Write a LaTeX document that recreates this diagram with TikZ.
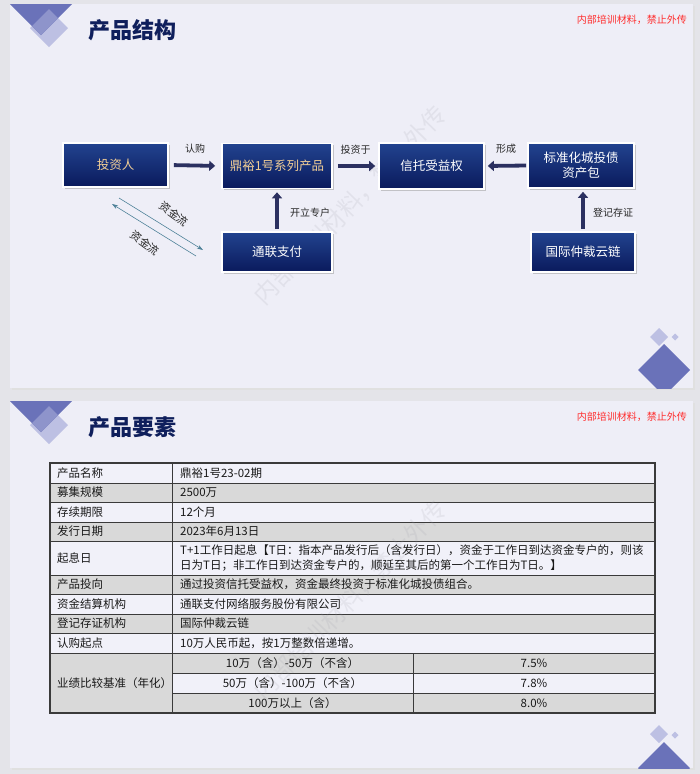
\documentclass[tikz,border=0pt]{standalone}
\usepackage{fontspec}
\setmainfont{Noto Sans CJK SC}
\usetikzlibrary{arrows.meta,shadows}
\definecolor{pagebg}{HTML}{E4E4E9}
\definecolor{slidebg}{HTML}{EEEEF7}
\definecolor{slideline}{HTML}{CFCFD8}
\definecolor{decodark}{HTML}{6A72B9}
\definecolor{decomid}{HTML}{8E94CB}
\definecolor{decolight}{HTML}{BDC0E3}
\definecolor{titlec}{HTML}{0F1F5C}
\definecolor{redc}{HTML}{FF2D2D}
\definecolor{boxtop}{HTML}{22438F}
\definecolor{boxbot}{HTML}{0A1A5C}
\definecolor{arrowc}{HTML}{2B3060}
\definecolor{goldc}{HTML}{F3CF96}
\definecolor{flowc}{HTML}{4F8299}
\definecolor{lightc}{HTML}{F1F1F9}
\definecolor{grayc}{HTML}{D9D9D9}
\definecolor{linec}{HTML}{3A3A3A}
\definecolor{wmc}{HTML}{9A9AA6}
\tikzset{
  boxnode/.style={draw=white, line width=1.6pt, top color=boxtop, bottom color=boxbot,
    text=white, font=\fontsize{12.5}{15}\selectfont, align=center, inner sep=0pt,
    drop shadow={shadow xshift=1.5pt, shadow yshift=-1.5pt, fill=black!35, opacity=0.6}},
  fatarrow/.style={draw=arrowc, line width=3.8pt, -{Triangle[length=6pt,width=10pt]}},
  flowarrow/.style={draw=flowc, line width=0.6pt, -{Stealth[length=6pt,width=4pt]}},
  lbl/.style={font=\fontsize{10}{12}\selectfont, text=black!85, inner sep=0pt},
  cell/.style={font=\fontsize{11.5}{15}\selectfont, text=black!90, inner sep=0pt, align=left},
  ttl/.style={font=\bfseries\fontsize{22}{26}\selectfont, text=titlec, inner sep=0pt, anchor=west},
  redtxt/.style={font=\fontsize{10}{12}\selectfont, text=redc, inner sep=0pt, anchor=east},
  wm/.style={font=\fontsize{24}{24}\selectfont, text=wmc, opacity=0.15, inner sep=0pt, rotate=46}
}
\begin{document}
\begin{tikzpicture}[x=1pt,y=-1pt]
\useasboundingbox (0,0) rectangle (700,774);
\fill[pagebg] (0,0) rectangle (700,774);
% slides
\fill[black!12] (11.5,5.5) rectangle (694.5,389.5);
\fill[slidebg] (10,4) rectangle (693,388);
\fill[black!12] (11.5,402.5) rectangle (694.5,769.5);
\fill[slidebg] (10,401) rectangle (693,768);
% header decorations
\foreach \oy in {0,397} {
\begin{scope}[shift={(0,\oy)}]
  \fill[decolight] (49,9) -- (68,28) -- (49,47) -- (30,28) -- cycle;
  \fill[decodark] (10,4) -- (72,4) -- (41,35) -- cycle;
  \begin{scope}
    \clip (49,9) -- (68,28) -- (49,47) -- (30,28) -- cycle;
    \fill[decomid] (10,4) -- (72,4) -- (41,35) -- cycle;
  \end{scope}
\end{scope}
}
% bottom right decorations
\begin{scope}
  \clip (10,4) rectangle (693,388);
  \fill[decodark] (664,344) -- (690,370) -- (664,396) -- (638,370) -- cycle;
\end{scope}
\fill[decolight] (659,328) -- (668,337) -- (659,346) -- (650,337) -- cycle;
\fill[decolight] (675,333.5) -- (678.5,337) -- (675,340.5) -- (671.5,337) -- cycle;
\begin{scope}
  \clip (10,401) rectangle (693,768);
  \fill[decodark] (664,742) -- (690,768) -- (664,794) -- (638,768) -- cycle;
\end{scope}
\fill[decolight] (659,725) -- (668,734) -- (659,743) -- (650,734) -- cycle;
\fill[decolight] (675,731.5) -- (678.5,735) -- (675,738.5) -- (671.5,735) -- cycle;
% titles
\node[ttl] (t1) at (88,30) {产品结构};
\node[redtxt] (r1) at (687,20) {内部培训材料，禁止外传};
\node[ttl] (t2) at (88,427) {产品要素};
\node[redtxt] (r2) at (687,417) {内部培训材料，禁止外传};
% watermarks
\node[wm] (wm1) at (350,205) {内部培训材料，禁止外传};
% flow boxes
\node[boxnode, minimum width=105pt, minimum height=44pt, text=goldc] (inv) at (115.5,165) {投资人};
\node[boxnode, minimum width=110pt, minimum height=45pt, text=goldc] (prod) at (277,166) {鼎裕1号系列产品};
\node[boxnode, minimum width=105pt, minimum height=46pt] (trust) at (431.5,166) {信托受益权};
\node[boxnode, minimum width=106pt, minimum height=45pt] (pkg) at (581,165.5) {标准化城投债\\资产包};
\node[boxnode, minimum width=110pt, minimum height=40pt] (tl) at (277,252) {通联支付};
\node[boxnode, minimum width=104pt, minimum height=40pt] (gj) at (583,252) {国际仲裁云链};
% fat arrows
\draw[fatarrow, shorten <=5pt, shorten >=6pt] (inv.east) -- (prod.west) node[lbl, midway, above=10pt] (l1) {认购};
\draw[fatarrow, shorten <=5pt, shorten >=3pt] (prod.east) -- (trust.west) node[lbl, midway, above=10pt] (l2) {投资于};
\draw[fatarrow, shorten <=1pt, shorten >=3pt] (pkg.west) -- (trust.east) node[lbl, midway, above=10pt] (l3) {形成};
\draw[fatarrow, shorten <=2pt, shorten >=3pt] (tl.north) -- (prod.south);
\node[lbl, anchor=west] (l4) at (290,213) {开立专户};
\draw[fatarrow, shorten <=2pt, shorten >=3pt] (gj.north) -- (gj.north |- pkg.south);
\node[lbl, anchor=west] (l5) at (593,213) {登记存证};
% thin flow arrows
\coordinate (fa1) at (119,198);
\coordinate (fa2) at (203,250);
\coordinate (fb1) at (196,256);
\coordinate (fb2) at (112,204);
\draw[flowarrow] (fa1) -- (fa2);
\draw[flowarrow] (fb1) -- (fb2);
\node[lbl, rotate=-36, font=\fontsize{11}{12}\selectfont] (l6) at (174,214) {资金流};
\node[lbl, rotate=-36, font=\fontsize{11}{12}\selectfont] (l7) at (145,243) {资金流};
% table fills
\foreach \ya/\yb/\fc in {463/483/lightc, 483/502/grayc, 502/522/lightc, 522/541/grayc, 541/575/lightc, 575/594/grayc, 594/614/lightc, 614/633/grayc, 633/653/lightc, 653/673/grayc, 673/693/lightc, 693/713/grayc} {
  \fill[\fc] (50,\ya) rectangle (655,\yb);
}
\fill[grayc] (50,653) rectangle (172,713);
% table lines
\foreach \yy in {483,502,522,541,575,594,614,633,653} {
  \draw[linec, line width=0.8pt] (50,\yy) -- (655,\yy);
}
\foreach \yy in {673,693} {
  \draw[linec, line width=0.8pt] (172,\yy) -- (655,\yy);
}
\draw[linec, line width=0.8pt] (172,463) -- (172,713);
\draw[linec, line width=0.8pt] (413,653) -- (413,713);
\draw[linec, line width=1.3pt] (50,463) rectangle (655,713);
% watermark on table
\node[wm] (wm2) at (350,600) {内部培训材料，禁止外传};
% table text
\node[cell, anchor=west] (c1a) at (57,473) {产品名称};
\node[cell, anchor=west] (c1b) at (180,473) {鼎裕1号23-02期};
\node[cell, anchor=west] (c2a) at (57,492.5) {募集规模};
\node[cell, anchor=west] (c2b) at (180,492.5) {2500万};
\node[cell, anchor=west] (c3a) at (57,512) {存续期限};
\node[cell, anchor=west] (c3b) at (180,512) {12个月};
\node[cell, anchor=west] (c4a) at (57,531.5) {发行日期};
\node[cell, anchor=west] (c4b) at (180,531.5) {2023年6月13日};
\node[cell, anchor=west] (c5a) at (57,558) {起息日};
\node[cell, anchor=west] (c5b) at (180,558) {T+1工作日起息【T日：指本产品发行后（含发行日），资金于工作日到达资金专户的，则该\\日为T日；非工作日到达资金专户的，顺延至其后的第一个工作日为T日。】};
\node[cell, anchor=west] (c6a) at (57,584.5) {产品投向};
\node[cell, anchor=west] (c6b) at (180,584.5) {通过投资信托受益权，资金最终投资于标准化城投债组合。};
\node[cell, anchor=west] (c7a) at (57,604) {资金结算机构};
\node[cell, anchor=west] (c7b) at (180,604) {通联支付网络服务股份有限公司};
\node[cell, anchor=west] (c8a) at (57,623.5) {登记存证机构};
\node[cell, anchor=west] (c8b) at (180,623.5) {国际仲裁云链};
\node[cell, anchor=west] (c9a) at (57,643) {认购起点};
\node[cell, anchor=west] (c9b) at (180,643) {10万人民币起，按1万整数倍递增。};
\node[cell, anchor=west] (c10a) at (57,683) {业绩比较基准（年化）};
\node[cell] (c10b) at (292.5,663) {10万（含）-50万（不含）};
\node[cell] (c10c) at (534,663) {7.5\%};
\node[cell] (c11b) at (292.5,683) {50万（含）-100万（不含）};
\node[cell] (c11c) at (534,683) {7.8\%};
\node[cell] (c12b) at (292.5,703) {100万以上（含）};
\node[cell] (c12c) at (534,703) {8.0\%};
\end{tikzpicture}
\end{document}
